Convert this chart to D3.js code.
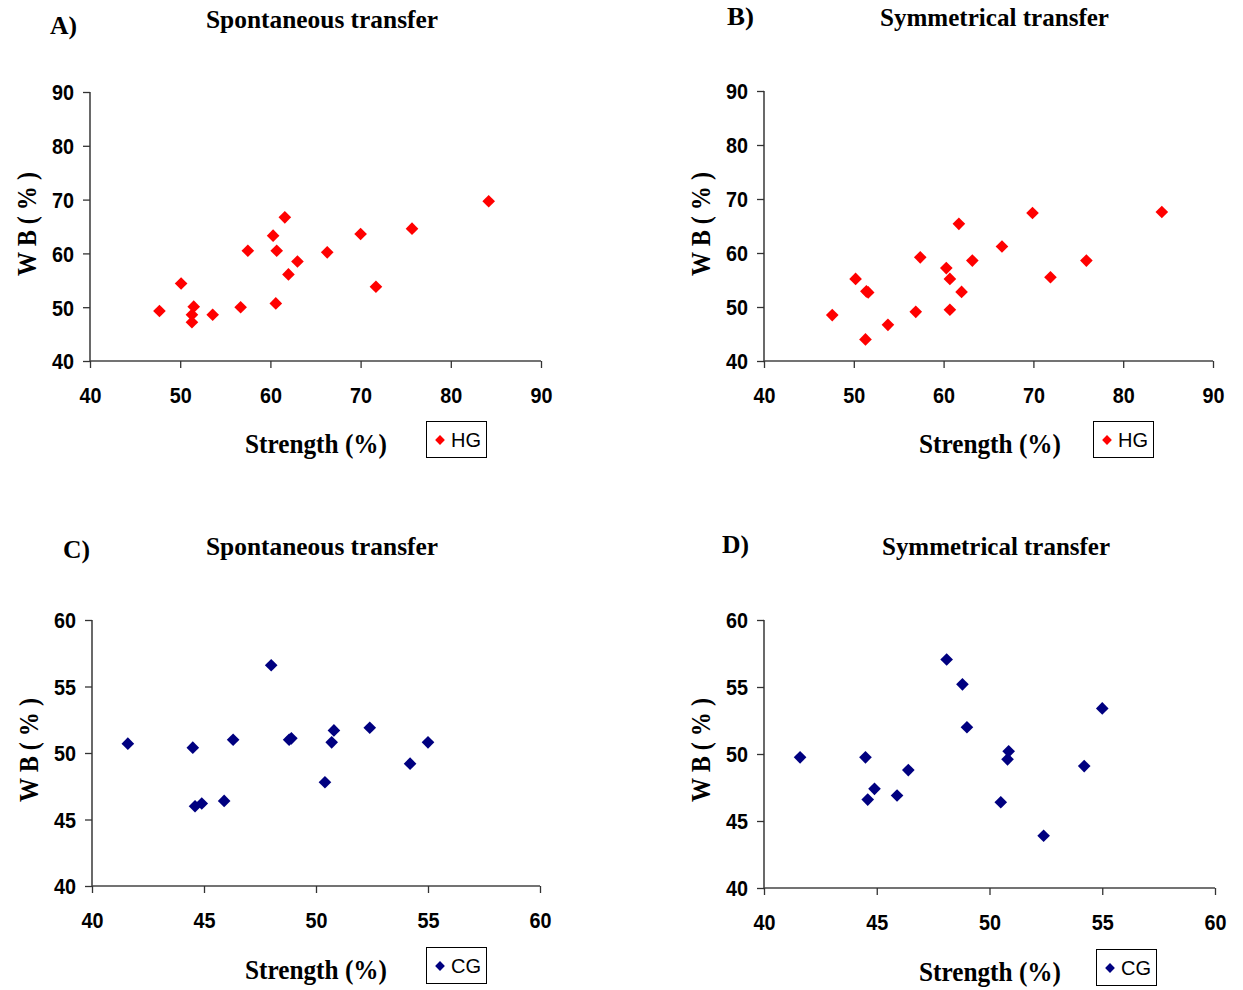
<!DOCTYPE html>
<html><head><meta charset="utf-8">
<script src="https://cdn.jsdelivr.net/npm/d3@7"></script>
<style>
html,body{margin:0;padding:0;background:#fff;}
svg{display:block;}
</style></head>
<body>
<svg id="chart" width="1243" height="990"></svg>
<script>
// ---- Data ----
const hgTicks = [40, 50, 60, 70, 80, 90];
const cgTicks = [40, 45, 50, 55, 60];

// A) HG spontaneous transfer
const hgSpontStrength = [47.7, 50.1, 51.5, 51.3, 51.3, 53.6, 56.7, 57.5, 60.3, 60.7, 60.6, 61.6, 62.0, 63.0, 66.3, 70.0, 71.7, 75.7, 84.2];
const hgSpontWB       = [49.3, 54.4, 50.1, 48.6, 47.2, 48.6, 50.0, 60.5, 63.3, 60.5, 50.7, 66.7, 56.1, 58.5, 60.2, 63.6, 53.8, 64.6, 69.7];

// B) HG symmetrical transfer
const hgSymStrength = [47.6, 50.2, 51.4, 51.6, 51.3, 53.8, 56.9, 57.4, 60.3, 60.7, 60.7, 61.7, 62.0, 63.2, 66.5, 69.9, 71.9, 75.9, 84.3];
const hgSymWB       = [48.5, 55.2, 52.9, 52.7, 44.0, 46.7, 49.1, 59.2, 57.2, 55.2, 49.5, 65.4, 52.8, 58.6, 61.2, 67.4, 55.5, 58.6, 67.6];

// C) CG spontaneous transfer
const cgSpontStrength = [41.6, 44.5, 44.6, 44.9, 45.9, 46.3, 48.0, 48.8, 48.9, 50.4, 50.7, 50.8, 52.4, 54.2, 55.0];
const cgSpontWB       = [50.7, 50.4, 46.0, 46.2, 46.4, 51.0, 56.6, 51.0, 51.1, 47.8, 50.8, 51.7, 51.9, 49.2, 50.8];

// D) CG symmetrical transfer
const cgSymStrength = [41.6, 44.5, 44.6, 44.9, 45.9, 46.4, 48.1, 48.8, 49.0, 50.5, 50.8, 50.85, 52.4, 54.2, 55.0];
const cgSymWB       = [49.75, 49.75, 46.6, 47.4, 46.9, 48.8, 57.05, 55.2, 52.0, 46.4, 49.6, 50.2, 43.9, 49.1, 53.4];

const panels = [
  {label:"A)", title:"Spontaneous transfer", xs:hgSpontStrength, ys:hgSpontWB, ticks:hgTicks, group:"HG", color:"#ff0000",
   x0:90, x1:541, yb:361, yt:92, lab:[50,34], tit:[206,28,232], ylab:[27,224], xt:[245,453,142], leg:[426,421]},
  {label:"B)", title:"Symmetrical transfer", xs:hgSymStrength, ys:hgSymWB, ticks:hgTicks, group:"HG", color:"#ff0000",
   x0:764, x1:1213, yb:361, yt:91, lab:[727,25], tit:[880,26,229], ylab:[701,224], xt:[919,453,142], leg:[1093,421]},
  {label:"C)", title:"Spontaneous transfer", xs:cgSpontStrength, ys:cgSpontWB, ticks:cgTicks, group:"CG", color:"#000080",
   x0:92, x1:540, yb:886, yt:620, lab:[63,558], tit:[206,555,232], ylab:[29,750], xt:[245,979,142], leg:[426,947]},
  {label:"D)", title:"Symmetrical transfer", xs:cgSymStrength, ys:cgSymWB, ticks:cgTicks, group:"CG", color:"#000080",
   x0:764, x1:1215, yb:888, yt:620, lab:[722,553], tit:[882,555,228], ylab:[701,750], xt:[919,981,142], leg:[1096,949]}
];

const svg = d3.select("#chart");
const serif = "'Liberation Serif','Times New Roman',serif";
const sans = "'Liberation Sans',Arial,sans-serif";
const diamond = d3.symbol().type(d3.symbolSquare).size(80);
const legDiamond = d3.symbol().type(d3.symbolSquare).size(48);

panels.forEach(p => {
  const dom = d3.extent(p.ticks);
  const x = d3.scaleLinear().domain(dom).range([p.x0, p.x1]);
  const y = d3.scaleLinear().domain(dom).range([p.yb, p.yt]);
  const g = svg.append("g");

  // axes
  const xAxis = d3.axisBottom(x).tickValues(p.ticks).tickSize(7).tickPadding(20).tickFormat(d3.format("d"));
  const yAxis = d3.axisLeft(y).tickValues(p.ticks).tickSize(7).tickPadding(9).tickFormat(d3.format("d"));
  const gx = g.append("g").attr("transform", `translate(0,${p.yb})`).call(xAxis);
  const gy = g.append("g").attr("transform", `translate(${p.x0},0)`).call(yAxis);
  [gx, gy].forEach(a => {
    a.select(".domain").attr("stroke", "#444").attr("stroke-width", 1.6);
    a.selectAll(".tick line").attr("stroke", "#333").attr("stroke-width", 1.3);
    a.selectAll(".tick text").attr("fill", "#000").style("font-family", sans)
      .style("font-weight", "bold").style("font-size", "22px")
      .attr("textLength", 22).attr("lengthAdjust", "spacingAndGlyphs");
  });
  gx.selectAll(".tick text").attr("dy", "0.68em");
  gy.selectAll(".tick text").attr("dy", "0.36em");
  gx.select(".domain").attr("d", `M${p.x0},0H${p.x1}`);
  gy.select(".domain").attr("d", `M0,${p.yb}V${p.yt}`);

  // points
  g.append("g").selectAll("path").data(p.xs.map((v, i) => [v, p.ys[i]])).join("path")
    .attr("d", diamond)
    .attr("transform", d => `translate(${x(d[0])},${y(d[1])}) rotate(45)`)
    .attr("fill", p.color);

  // panel label
  g.append("text").attr("x", p.lab[0]).attr("y", p.lab[1]).text(p.label)
    .style("font-family", serif).style("font-weight", "bold").style("font-size", "26px")
    .attr("textLength", 27).attr("lengthAdjust", "spacingAndGlyphs");
  // title
  g.append("text").attr("x", p.tit[0]).attr("y", p.tit[1]).text(p.title)
    .style("font-family", serif).style("font-weight", "bold").style("font-size", "26px")
    .attr("textLength", p.tit[2]).attr("lengthAdjust", "spacingAndGlyphs");
  // y label
  g.append("text").attr("transform", `translate(${p.ylab[0] + 9},${p.ylab[1]}) rotate(-90)`)
    .attr("text-anchor", "middle").text("W B ( % )")
    .style("font-family", serif).style("font-weight", "bold").style("font-size", "27px")
    .attr("textLength", 104).attr("lengthAdjust", "spacingAndGlyphs");
  // x label
  g.append("text").attr("x", p.xt[0]).attr("y", p.xt[1]).text("Strength (%)")
    .style("font-family", serif).style("font-weight", "bold").style("font-size", "27px")
    .attr("textLength", p.xt[2]).attr("lengthAdjust", "spacingAndGlyphs");

  // legend
  const lg = g.append("g").attr("transform", `translate(${p.leg[0]},${p.leg[1]})`);
  lg.append("rect").attr("x", 0.5).attr("y", 0.5).attr("width", 60).attr("height", 36)
    .attr("fill", "#fff").attr("stroke", "#000").attr("stroke-width", 1);
  lg.append("path").attr("d", legDiamond).attr("transform", "translate(14,19) rotate(45)").attr("fill", p.color);
  lg.append("text").attr("x", 25).attr("y", 26).text(p.group)
    .style("font-family", sans).style("font-size", "20px").attr("fill", "#000");
});
</script>
</body></html>
